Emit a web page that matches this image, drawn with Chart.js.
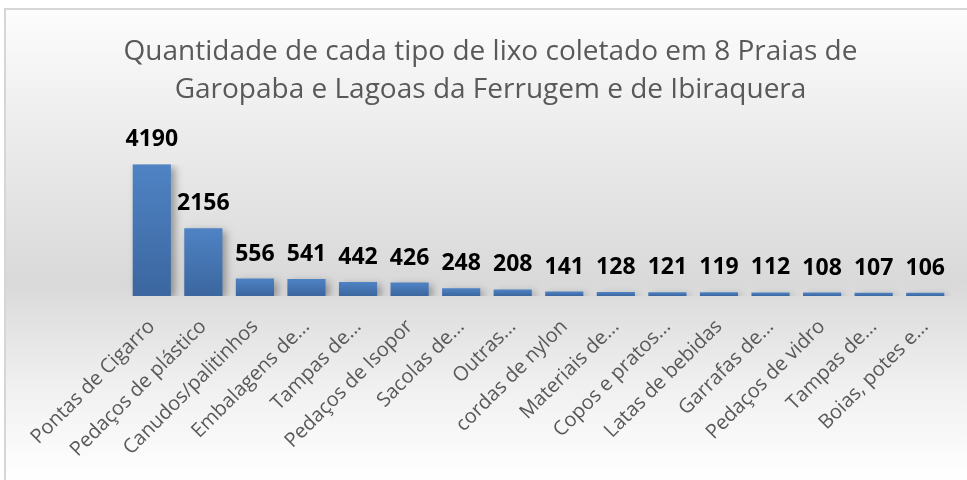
<!DOCTYPE html>
<html>
<head>
<meta charset="utf-8">
<title>Lixo coletado</title>
<script src="https://cdn.jsdelivr.net/npm/chart.js@4.4.1/dist/chart.umd.min.js"></script>
<style>
    body { margin: 0; background: #ffffff; }
    #wrap { width: 967px; height: 480px; }
</style>
</head>
<body>
<div id="wrap"><canvas id="lixoChart" width="967" height="480"></canvas></div>
<script>
// Chart data
const titleLines = [
    "Quantidade de cada tipo de lixo coletado em 8 Praias de",
    "Garopaba e Lagoas da Ferrugem e de Ibiraquera"
];
const categories = [
    "Pontas de Cigarro", "Pedaços de plástico", "Canudos/palitinhos", "Embalagens de...",
    "Tampas de...", "Pedaços de Isopor", "Sacolas de...", "Outras...",
    "cordas de nylon", "Materiais de...", "Copos e pratos...", "Latas de bebidas",
    "Garrafas de...", "Pedaços de vidro", "Tampas de...", "Boias, potes e..."
];
const counts = [4190, 2156, 556, 541, 442, 426, 248, 208, 141, 128, 121, 119, 112, 108, 107, 106];

// Background panel with the grey band behind the bars
const panelPlugin = {
    id: 'panel',
    beforeDraw(chart) {
        const ctx = chart.ctx;
        const w = chart.width, h = chart.height;
        ctx.save();
        ctx.fillStyle = '#ffffff';
        ctx.fillRect(0, 0, w, h);
        const g = ctx.createLinearGradient(0, 8, 0, h);
        g.addColorStop(0, '#fdfdfd');
        g.addColorStop(0.12, '#f5f5f5');
        g.addColorStop(0.58, '#d9d9d9');
        g.addColorStop(0.8, '#f0f0f0');
        g.addColorStop(1, '#ffffff');
        ctx.fillStyle = g;
        ctx.fillRect(4, 8, w - 4, h - 8);
        ctx.strokeStyle = '#d6d6d6';
        ctx.lineWidth = 2;
        ctx.beginPath();
        ctx.moveTo(5, h);
        ctx.lineTo(5, 9);
        ctx.lineTo(w, 9);
        ctx.stroke();
        ctx.restore();
    }
};

// Bar shadow + value labels
const barLabelPlugin = {
    id: 'barLabels',
    beforeDatasetsDraw(chart) {
        const ctx = chart.ctx;
        ctx.save();
        ctx.shadowColor = 'rgba(0,0,0,0.35)';
        ctx.shadowBlur = 8;
        ctx.shadowOffsetX = 4;
        ctx.shadowOffsetY = 3;
    },
    afterDatasetsDraw(chart) {
        const ctx = chart.ctx;
        ctx.restore();
        ctx.save();
        ctx.font = 'bold 23px "Open Sans"';
        ctx.fillStyle = '#000000';
        ctx.textAlign = 'center';
        ctx.textBaseline = 'alphabetic';
        chart.getDatasetMeta(0).data.forEach((bar, i) => {
            ctx.fillText(String(counts[i]), bar.x, bar.y - 18);
        });
        ctx.restore();
    }
};

function barFill(context) {
    const chart = context.chart;
    if (!chart.chartArea || context.dataIndex === undefined) return '#4a7bbb';
    const y = chart.scales.y;
    const top = y.getPixelForValue(counts[context.dataIndex]);
    const bottom = y.getPixelForValue(0);
    const g = chart.ctx.createLinearGradient(0, top, 0, bottom);
    g.addColorStop(0, '#4f83c4');
    g.addColorStop(1, '#3b669f');
    return g;
}

const lixoChart = new Chart(document.getElementById('lixoChart'), {
    type: 'bar',
    data: {
        labels: categories,
        datasets: [{
            data: counts,
            backgroundColor: barFill,
            borderWidth: 0,
            barPercentage: 0.74,
            categoryPercentage: 1.0
        }]
    },
    options: {
        responsive: false,
        animation: false,
        layout: { padding: { left: 30, right: 16, top: 0, bottom: 0 } },
        plugins: {
            legend: { display: false },
            tooltip: { enabled: false },
            title: {
                display: true,
                text: titleLines,
                color: '#595959',
                font: { family: 'Open Sans', size: 28, weight: 'normal', lineHeight: 1.36 },
                padding: { top: 33, bottom: 55 }
            }
        },
        scales: {
            x: {
                grid: { display: false },
                border: { display: false },
                ticks: {
                    autoSkip: false,
                    maxRotation: 45,
                    minRotation: 45,
                    padding: 11,
                    color: '#595959',
                    font: { family: 'Open Sans', size: 20 }
                },
                afterFit(scale) { scale.height = 184; }
            },
            y: {
                min: 0,
                max: 4190,
                grid: { display: false },
                border: { display: false },
                ticks: { display: false },
                afterFit(scale) { scale.width = 96; }
            }
        }
    },
    plugins: [panelPlugin, barLabelPlugin]
});
</script>
</body>
</html>
